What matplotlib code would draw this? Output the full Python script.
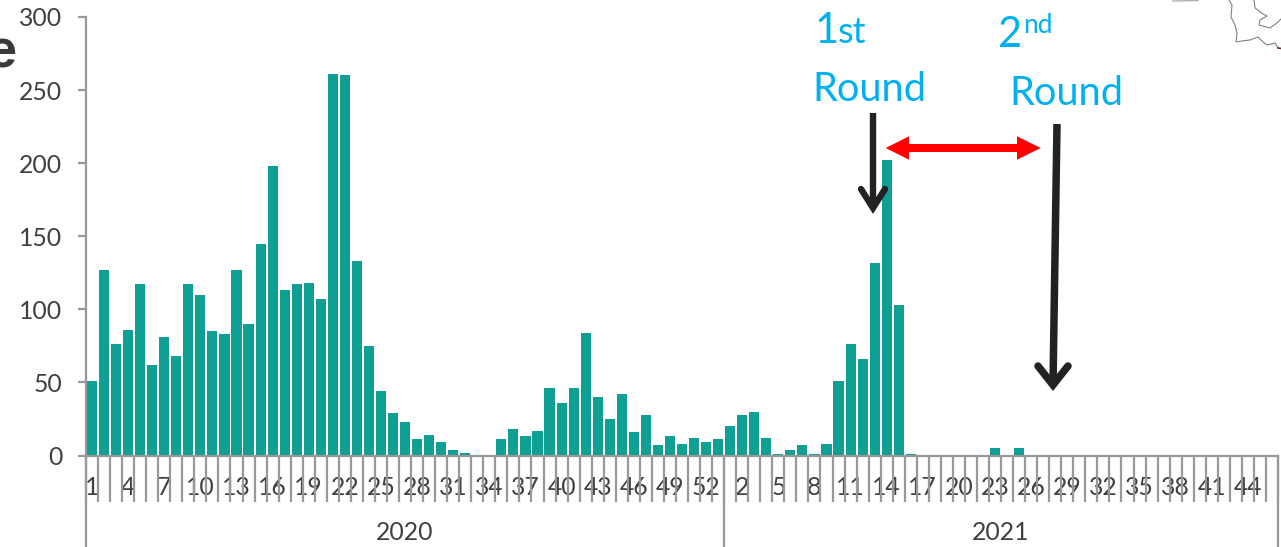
import matplotlib
matplotlib.use("Agg")
import matplotlib.pyplot as plt
from matplotlib.patches import Polygon
from matplotlib.transforms import Affine2D

W, H = 1281, 547
plt.rcParams['font.family'] = ['Lato', 'DejaVu Sans']

weeks_2020 = list(range(1, 54))
weeks_2021 = list(range(1, 47))
cases_2020 = [51, 127, 76, 86, 117, 62, 81, 68, 117, 110, 85, 83, 127, 90, 145, 198, 113, 117, 118, 107,
              261, 260, 133, 75, 44, 29, 23, 11, 14, 9, 4, 2, 0, 0, 11, 18, 13, 17, 46, 36,
              46, 84, 40, 25, 42, 16, 28, 7, 13, 8, 12, 9, 11]
cases_2021 = [20, 28, 30, 12, 1, 4, 7, 1, 8, 51, 76, 66, 132, 202, 103, 1, 0, 0, 0, 0,
              0, 0, 5, 0, 5, 0, 0, 0, 0, 0, 0, 0, 0, 0, 0, 0, 0, 0, 0, 0,
              0, 0, 0, 0, 0, 0]
years = ['2020', '2021']
y_ticks = [0, 50, 100, 150, 200, 250, 300]

AXC = '#999999'
TXT = '#404040'
BAR = '#109F94'
BLUE = '#00B0F0'
DARK = '#222222'
FS = 17.8

fig = plt.figure(figsize=(W / 100, H / 100), dpi=100, facecolor='white')
x0, x1, y0, y1 = 86.0, 1278.0, 455.5, 17.0
ax = fig.add_axes([x0 / W, 1 - y0 / H, (x1 - x0) / W, (y0 - y1) / H])

values = cases_2020 + cases_2021
labels = [str(w) for w in weeks_2020] + [str(w) for w in weeks_2021]
pos = [i + 0.5 for i in range(len(values))]
ax.bar(pos, values, width=0.84, color=BAR, linewidth=0)
ax.set_xlim(0, len(values))
ax.set_ylim(0, 300)

for s in ['top', 'right']:
    ax.spines[s].set_visible(False)
for s in ['left', 'bottom']:
    ax.spines[s].set_color(AXC)
    ax.spines[s].set_linewidth(1.6)

ax.set_yticks(y_ticks)
ax.tick_params(axis='y', length=6, width=1.6, color=AXC, labelcolor=TXT, labelsize=FS, pad=11)

ax.set_xticks(pos[::3])
ax.set_xticklabels(labels[::3])
ax.tick_params(axis='x', which='major', length=0, labelcolor=TXT, labelsize=FS, pad=15)
ax.set_xticks(range(len(values) + 1), minor=True)
ax.tick_params(axis='x', which='minor', length=33, width=1.6, color=AXC)

tr = ax.get_xaxis_transform()
low = -(H - y0) / (y0 - y1)
n20 = len(cases_2020)
for xv in [0, n20, len(values)]:
    ax.plot([xv, xv], [0, low], transform=tr, color=AXC, lw=1.6, clip_on=False)
for label, xc in zip(years, [n20 * 0.5, n20 + len(cases_2021) * 0.5]):
    ax.text(xc, -(533 - y0) / (y0 - y1), label, transform=tr, ha='center', va='center',
            fontsize=FS, color=TXT)

# pixel space (y down) for the overlaid slide annotations
px = Affine2D().scale(1, -1).translate(0, H)

def ptext(x, y, s, size, color=BLUE, **kw):
    fig.text(x, y, s, transform=px, fontsize=size, color=color, va='baseline', **kw)

ptext(815, 43, '1', 30)
ptext(838, 43, 'st', 26)
ptext(812, 101, 'Round', 28.7)
ptext(998, 47, '2', 30)
ptext(1023, 33, 'nd', 19)
ptext(1009.5, 105, 'Round', 28.7)
ptext(17, 67, 'e', 39, color='#3A3A3A', ha='right', fontweight='bold', family='Liberation Sans')

def chevron_arrow(xa, ya, xb, yb, lw, half):
    fig.add_artist(plt.Line2D([xa, xb], [ya, yb - 8], transform=px, color=DARK, lw=lw, solid_capstyle='butt'))
    fig.add_artist(plt.Line2D([xb - half, xb, xb + half], [yb - 27, yb - 8, yb - 27], transform=px, color=DARK,
                              lw=lw, solid_capstyle='round', solid_joinstyle='miter'))

chevron_arrow(873, 113, 873, 216, 4.6, 12)
chevron_arrow(1057, 124, 1053, 393, 5.4, 15)

red_x = [885.7, 909, 909, 1017, 1017, 1040.7, 1017, 1017, 909, 909]
red_y = [148, 136.3, 144, 144, 136.3, 148, 159.7, 152, 152, 159.7]
fig.add_artist(Polygon(list(zip(red_x, red_y)), closed=True, transform=px, facecolor='#FF0000', edgecolor='none'))

# map fragment at the corner of the slide
map_x = [1229, 1232, 1231, 1235, 1237, 1236, 1242, 1250, 1258, 1263, 1267, 1275, 1278]
map_y = [0, 5, 17, 25, 33, 42, 41, 40, 37, 42, 45, 43, 48]
fig.add_artist(plt.Line2D(map_x, map_y, transform=px, color='#808080', lw=0.8))
map2_x = [1254, 1255, 1263, 1267, 1260, 1259, 1270, 1277, 1281]
map2_y = [0, 8, 14, 16, 20, 25, 28, 23, 19]
fig.add_artist(plt.Line2D(map2_x, map2_y, transform=px, color='#808080', lw=0.8))
fig.add_artist(plt.Line2D([1173, 1198], [1, 0.5], transform=px, color='#B0B0B0', lw=1.0))
fig.add_artist(plt.Line2D([1278, 1281], [48, 48.5], transform=px, color='#8B2020', lw=1.2))

fig.savefig('out.png', dpi=100, facecolor='white')
